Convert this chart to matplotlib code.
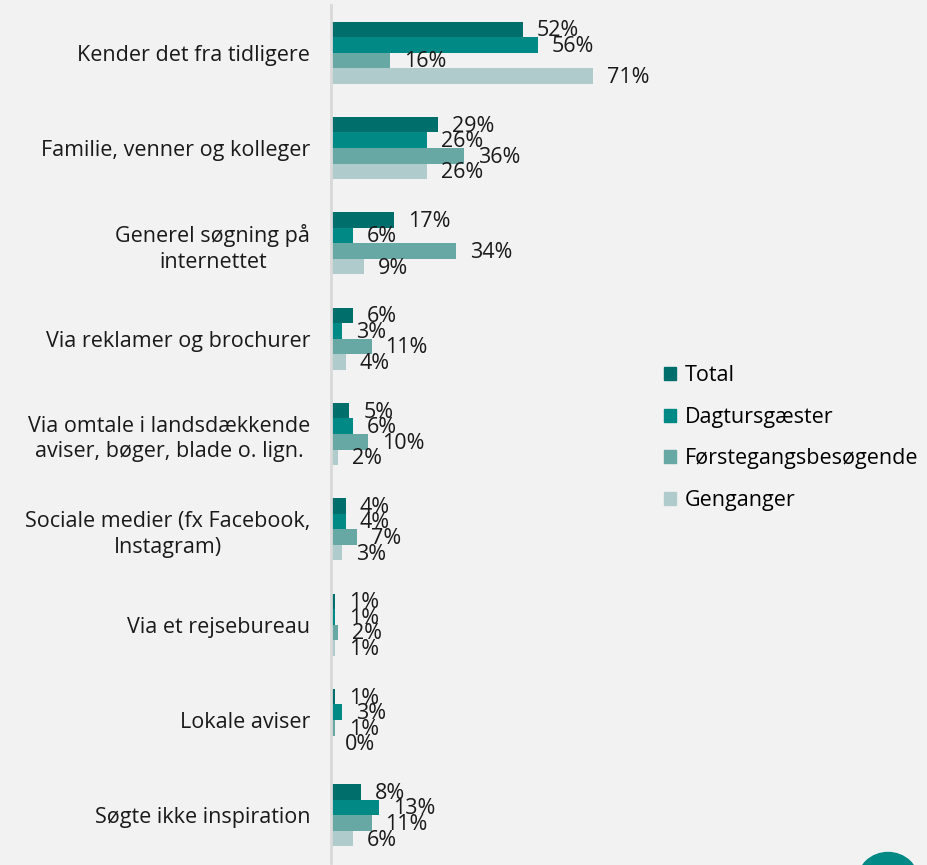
import matplotlib.pyplot as plt
import matplotlib.patches as mpatches
import numpy as np

categories = [
    "Kender det fra tidligere",
    "Familie, venner og kolleger",
    "Generel søgning på\ninternettet",
    "Via reklamer og brochurer",
    "Via omtale i landsdækkende\naviser, bøger, blade o. lign.",
    "Sociale medier (fx Facebook,\nInstagram)",
    "Via et rejsebureau",
    "Lokale aviser",
    "Søgte ikke inspiration",
]
series_names = ["Total", "Dagtursgæster", "Førstegangsbesøgende", "Genganger"]
total = [52, 29, 17, 6, 5, 4, 1, 1, 8]
dagturs = [56, 26, 6, 3, 6, 4, 1, 3, 13]
forste = [16, 36, 34, 11, 10, 7, 2, 1, 11]
genganger = [71, 26, 9, 4, 2, 3, 1, 0, 6]
series = [total, dagturs, forste, genganger]
colors = ["#006F6C", "#008985", "#67A7A4", "#B0CBCC"]

plt.rcParams['font.family'] = ['Open Sans', 'DejaVu Sans']
FS = 15.5
bg = "#F2F2F2"
fig = plt.figure(figsize=(9.27, 8.65), dpi=100, facecolor=bg)
ax = fig.add_axes([331/927, 2/865, (650-331)/927, (860-2)/865])
ax.set_facecolor(bg)

n = len(categories)
y = np.arange(n)
h = 0.163
for i, (vals, c) in enumerate(zip(series, colors)):
    ypos = y + (i - 1.5) * h
    ax.barh(ypos, vals, height=h, color=c, edgecolor="none", label=series_names[i])
    for yy, v in zip(ypos, vals):
        ax.annotate(f"{v}%", (v, yy), xytext=(10, -1), textcoords="offset points",
                    ha="left", va="center", fontsize=FS, color="#1a1a1a")

ax.set_ylim(n - 0.5, -0.5)
ax.set_xlim(0, 86.5)
ax.set_yticks(y)
ax.set_yticklabels(categories, fontsize=FS, color="#1a1a1a", multialignment="center",
                   linespacing=1.3)
ax.tick_params(axis="y", length=0, pad=15)
ax.set_xticks([])
for s in ["top", "right", "bottom"]:
    ax.spines[s].set_visible(False)
ax.spines["left"].set_color("#D9D9D9")
ax.spines["left"].set_linewidth(2)

handles = [mpatches.Patch(color=c) for c in colors]
fig.legend(handles, series_names, loc="upper left", bbox_to_anchor=(645/927, 1 - 346/865),
           frameon=False, fontsize=FS, handlelength=0.55, handleheight=0.55,
           handletextpad=0.4, labelspacing=0.95)

# partial logo shape at bottom right
logo = mpatches.Ellipse((888/927, 1 - 880/865), 60/927, 55/865, transform=fig.transFigure,
                        color="#008985", clip_on=False)
fig.patches.append(logo)

fig.savefig("out.png", dpi=100, facecolor=bg)
